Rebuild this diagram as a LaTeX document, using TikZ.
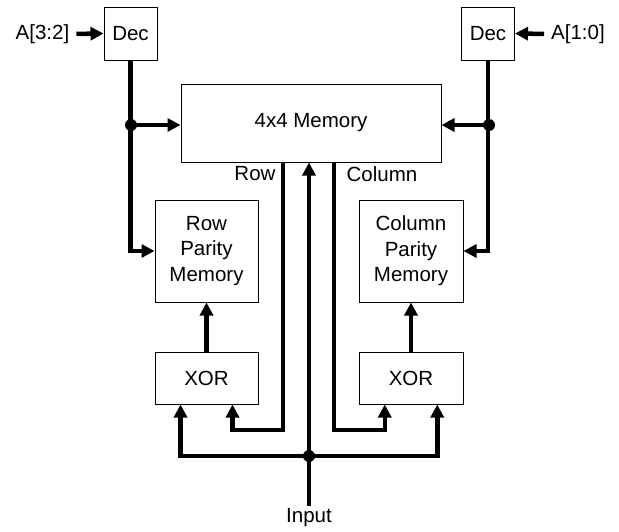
\documentclass[tikz,border=0pt]{standalone}
\usepackage{fontspec}
\setmainfont{Liberation Sans}
\usetikzlibrary{arrows.meta,calc}
\tikzset{
  blk/.style={draw,line width=1pt,inner sep=0pt,align=center,font=\fontsize{20.5}{25.5}\selectfont},
  lbl/.style={inner sep=0pt,font=\fontsize{20.5}{25.5}\selectfont},
  bus/.style={line width=4.5pt},
  arr/.style={line width=4.5pt,-{Triangle[length=13pt,width=13pt]}},
  dot/.style={circle,fill=black,inner sep=0pt,minimum size=12pt}
}
\begin{document}
\begin{tikzpicture}[x=1pt,y=-1pt]
\useasboundingbox (0,0) rectangle (619,531);
% blocks
\node[blk,minimum width=53pt,minimum height=53pt] (decL) at (130.5,33.5) {Dec};
\node[blk,minimum width=53pt,minimum height=53pt] (decR) at (488,33.5) {Dec};
\node[blk,minimum width=260pt,minimum height=78pt] (mem) at (311,123) {4x4 Memory};
\node[blk,minimum width=103pt,minimum height=102pt] (rpm) at (206.5,251) {Row\\Parity\\Memory};
\node[blk,minimum width=104pt,minimum height=102pt] (cpm) at (411,251) {Column\\Parity\\Memory};
\node[blk,minimum width=103pt,minimum height=52pt] (xorL) at (206.5,378) {XOR};
\node[blk,minimum width=104pt,minimum height=52pt] (xorR) at (411,378) {XOR};
% labels
\node[lbl] (aL) at (42.5,34) {A[3:2]};
\node[lbl] (aR) at (578,34) {A[1:0]};
\node[lbl] (rowlbl) at (255,174) {Row};
\node[lbl] (collbl) at (382,174) {Column};
\node[lbl] (inlbl) at (309,518) {Input};
% coordinates
\coordinate (jL) at (131,125);
\coordinate (jR) at (489,125);
\coordinate (rowBend) at (283,430);
\coordinate (colBend) at (334,430);
\coordinate (inBot) at (309,506);
\coordinate (jIn) at (309,456);
\coordinate (xl1) at ($(xorL.south west)!.25!(xorL.south east)$);
\coordinate (xl2) at ($(xorL.south west)!.75!(xorL.south east)$);
\coordinate (xr1) at ($(xorR.south west)!.25!(xorR.south east)$);
\coordinate (xr2) at ($(xorR.south west)!.75!(xorR.south east)$);
% address inputs
\draw[arr,shorten <=7pt] (aL.east) -- (decL.west);
\draw[arr,shorten <=7pt] (aR.west) -- (decR.east);
% decoder buses
\draw[arr] (decL.south) |- (rpm.west);
\draw[arr] (jL) -- (jL -| mem.west);
\draw[arr] (decR.south) |- (cpm.east);
\draw[arr] (jR) -- (jR -| mem.east);
% xor to parity memories
\draw[arr] (xorL.north) -- (rpm.south);
\draw[arr] (xorR.north) -- (cpm.south);
% row and column outputs
\draw[arr] (mem.south -| rowBend) -- (rowBend) -| (xl2);
\draw[arr] (mem.south -| colBend) -- (colBend) -| (xr1);
% input
\draw[arr] (inBot) -- (inBot |- mem.south);
\draw[arr] (jIn) -| (xl1);
\draw[arr] (jIn) -| (xr2);
% junction dots
\node[dot] (dL) at (jL) {};
\node[dot] (dR) at (jR) {};
\node[dot] (dIn) at (jIn) {};
\end{tikzpicture}
\end{document}
